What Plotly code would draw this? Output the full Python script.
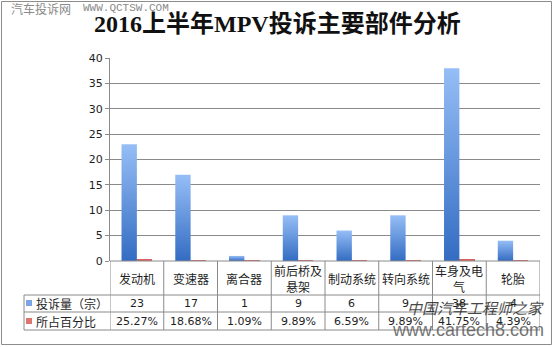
import plotly.graph_objects as go

# ---- data -------------------------------------------------------------
categories = ["发动机", "变速器", "离合器", "前后桥及<br>悬架",
              "制动系统", "转向系统", "车身及电<br>气", "轮胎"]
complaints = [23, 17, 1, 9, 6, 9, 38, 4]                      # 投诉量（宗）
share_pct = [25.27, 18.68, 1.09, 9.89, 6.59, 9.89, 41.75, 4.39]  # 所占百分比
y_ticks = [0, 5, 10, 15, 20, 25, 30, 35, 40]
series_names = ["投诉量（宗）", "所占百分比"]
title_text = "2016上半年MPV投诉主要部件分析"

# ---- page geometry (pixels) -------------------------------------------
W, H = 555, 347
L, R, T, B = 110, 15, 58, 86
PW, PH = W - L - R, H - T - B


def px(xpix):
    """pixel column -> paper x"""
    return (xpix - L) / PW


def py(ypix):
    """pixel row -> paper y"""
    return (H - B - ypix) / PH


GRID = "#8a8a8a"
TXT = "#1e1e1e"
CJK = "Noto Sans CJK SC, sans-serif"
NUM = "DejaVu Sans, sans-serif"
BLUE_DARK, BLUE_LIGHT = "#336cc2", "#96bef6"
RED = "#d9625e"

n = len(categories)
bw = 1 / 3.5  # two bars per category, 150% gap

fig = go.Figure()

# complaint counts: gradient-filled columns, one trace per column
for i, v in enumerate(complaints):
    fig.add_trace(go.Scatter(
        x=[i - bw, i - bw, i, i], y=[0, v, v, 0],
        fill="toself", mode="lines", line=dict(width=0, color=BLUE_DARK),
        fillgradient=dict(type="vertical",
                          colorscale=[[0, BLUE_DARK], [1, BLUE_LIGHT]]),
        hoverinfo="skip", showlegend=False,
    ))

# share of complaints (as a fraction on the same axis)
fig.add_trace(go.Bar(
    x=list(range(n)), y=[p / 100 for p in share_pct],
    width=bw, offset=0, marker=dict(color=RED, line=dict(width=0)),
    showlegend=False,
))

shapes = []
line = dict(color=GRID, width=1)
# data-table rules
shapes.append(dict(type="line", xref="paper", yref="paper",
                   x0=0, x1=1, y0=py(261), y1=py(261), line=line))
for yy in (295, 312, 330):
    shapes.append(dict(type="line", xref="paper", yref="paper",
                       x0=px(24), x1=1, y0=py(yy), y1=py(yy), line=line))
for k in range(n + 1):
    shapes.append(dict(type="line", xref="x", yref="paper",
                       x0=k - 0.5, x1=k - 0.5, y0=py(261), y1=py(330), line=line))
shapes.append(dict(type="line", xref="paper", yref="paper",
                   x0=px(24), x1=px(24), y0=py(295), y1=py(330), line=line))
# legend keys
shapes.append(dict(type="rect", xref="paper", yref="paper",
                   x0=px(26), x1=px(32), y0=py(306), y1=py(300),
                   fillcolor="#7aa4e6", line=dict(width=0)))
shapes.append(dict(type="rect", xref="paper", yref="paper",
                   x0=px(26), x1=px(32), y0=py(324), y1=py(318),
                   fillcolor="#de7470", line=dict(width=0)))
# outer frame
shapes.append(dict(type="rect", xref="paper", yref="paper",
                   x0=px(1.5), x1=px(551.5), y0=py(1.5), y1=py(344.5),
                   line=dict(color="#8c8c8c", width=1), fillcolor="rgba(0,0,0,0)"))

ann = []
ann.append(dict(text="<b>" + title_text + "</b>", xref="paper", yref="paper",
                x=px(277), y=py(24), xanchor="center", yanchor="middle",
                showarrow=False,
                font=dict(family="Liberation Serif, Noto Sans CJK SC", size=24,
                          color="#111")))
ann.append(dict(text="汽车投诉网", xref="paper", yref="paper",
                x=px(9), y=py(8), xanchor="left", yanchor="middle",
                showarrow=False, font=dict(family=CJK, size=12, color="#8a8a8a")))
ann.append(dict(text="WWW.QCTSW.COM", xref="paper", yref="paper",
                x=px(81), y=py(8), xanchor="left", yanchor="middle",
                showarrow=False,
                font=dict(family="Liberation Mono, monospace", size=11, color="#8a8a8a")))

for i, c in enumerate(categories):
    ann.append(dict(text=c, xref="x", yref="paper", x=i, y=py(278),
                    xanchor="center", yanchor="middle", showarrow=False,
                    font=dict(family=CJK, size=12, color=TXT)))
    ann.append(dict(text=str(complaints[i]), xref="x", yref="paper", x=i, y=py(303.5),
                    xanchor="center", yanchor="middle", showarrow=False,
                    font=dict(family=NUM, size=11, color=TXT)))
    ann.append(dict(text=f"{share_pct[i]:.2f}%", xref="x", yref="paper", x=i, y=py(321),
                    xanchor="center", yanchor="middle", showarrow=False,
                    font=dict(family=NUM, size=11, color=TXT)))

for name, yy in zip(series_names, (303.5, 321)):
    ann.append(dict(text=name, xref="paper", yref="paper", x=px(34), y=py(yy),
                    xanchor="left", yanchor="middle", showarrow=False,
                    font=dict(family=CJK, size=12, color=TXT)))

# site stamp in the lower right
ann.append(dict(text="中国汽车工程师之家", xref="paper", yref="paper",
                x=px(546), y=py(307), xanchor="right", yanchor="middle",
                showarrow=False, opacity=0.8,
                font=dict(family=CJK, size=15, color="#1a1a1a", style="italic")))
ann.append(dict(text="www.cartech8.com", xref="paper", yref="paper",
                x=px(546), y=py(330), xanchor="right", yanchor="middle",
                showarrow=False, opacity=0.8,
                font=dict(family="Liberation Sans Narrow, Liberation Sans", size=18,
                          color="#555")))

fig.update_layout(
    width=W, height=H,
    margin=dict(l=L, r=R, t=T, b=B),
    paper_bgcolor="white", plot_bgcolor="white",
    bargap=0, barmode="overlay",
    shapes=shapes, annotations=ann,
    xaxis=dict(range=[-0.5, n - 0.5], showticklabels=False, showgrid=False,
               zeroline=False, showline=False, fixedrange=True),
    yaxis=dict(range=[0, 40], tickvals=y_ticks, showgrid=True, gridcolor=GRID,
               gridwidth=1, showline=True, linecolor=GRID, linewidth=1,
               ticks="outside", ticklen=4, tickcolor=GRID, zeroline=False,
               tickfont=dict(family=NUM, size=11, color=TXT), fixedrange=True),
)

fig.write_html("out.html")
